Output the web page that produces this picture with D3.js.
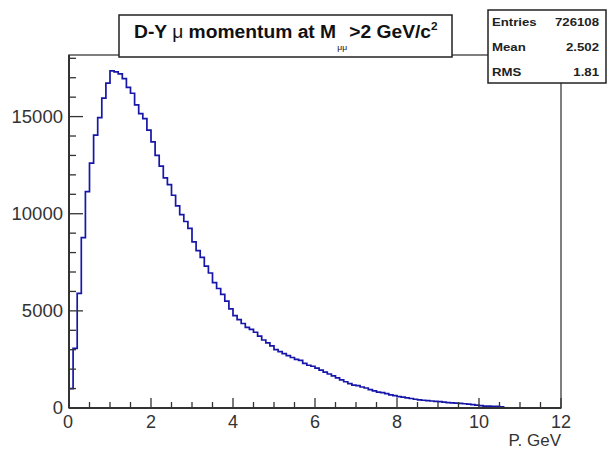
<!DOCTYPE html>
<html lang="en">
<head>
  <meta charset="UTF-8" />
  <title>D-Y mu momentum</title>
  <script src="https://d3js.org/d3.v7.min.js"></script>
  <style>
    body {
      margin: 0;
      background: #fff;
      font-family: "Liberation Sans", Arial, sans-serif;
    }
    svg {
      display: block;
    }
  </style>
</head>
<body>
  <svg id="chart" width="607" height="450"></svg>

  <script>
    // histogram contents, 0.1 GeV bins starting at 0
    const binWidth = 0.1;
    const counts = [
      1000, 3070, 5900, 8770, 11140, 12600, 14050, 14950, 15950, 16720,
      17350, 17300, 17200, 16950, 16500, 16200, 15600, 15150, 14900, 14300,
      13700, 13000, 12450, 11850, 11500, 10950, 10400, 9950, 9600, 9250,
      8550, 8100, 7750, 7300, 6950, 6450, 6150, 5850, 5500, 5100,
      4750, 4550, 4350, 4150, 4050, 3900, 3700, 3500, 3350, 3200,
      3000, 2900, 2800, 2700, 2600, 2500, 2450, 2300, 2200, 2150,
      2050, 1950, 1850, 1750, 1650, 1550, 1450, 1350, 1250, 1180,
      1150, 1080, 1030, 950, 880, 820, 790, 740, 680, 640,
      590, 560, 520, 490, 450, 420, 400, 380, 360, 340,
      330, 300, 280, 260, 250, 240, 220, 200, 170, 150,
      120, 100, 100, 90, 80, 60
    ];

    const xMajor = [0, 2, 4, 6, 8, 10, 12];
    const yMajor = [0, 5000, 10000, 15000];
    const xDomain = [0, 12];
    const yDomain = [0, 18170];

    const stats = [
      { label: "Entries", value: "726108" },
      { label: "Mean", value: "2.502" },
      { label: "RMS", value: "1.81" }
    ];

    const svg = d3.select("#chart");
    const frame = { left: 69, right: 561, top: 55, bottom: 408 };

    const x = d3.scaleLinear().domain(xDomain).range([frame.left, frame.right]);
    const y = d3.scaleLinear().domain(yDomain).range([frame.bottom, frame.top]);

    // frame
    svg.append("rect")
      .attr("x", frame.left).attr("y", frame.top)
      .attr("width", frame.right - frame.left)
      .attr("height", frame.bottom - frame.top)
      .attr("fill", "none")
      .attr("stroke", "#555")
      .attr("stroke-width", 1.5);

    // histogram as a step line
    const pts = [[x(0), y(0)]];
    counts.forEach((c, i) => {
      pts.push([x(i * binWidth), y(c)]);
      pts.push([x((i + 1) * binWidth), y(c)]);
    });
    pts.push([x(counts.length * binWidth), y(0)]);

    svg.append("path")
      .attr("d", d3.line()(pts))
      .attr("fill", "none")
      .attr("stroke", "#1616a8")
      .attr("stroke-width", 1.7);

    // x axis (ticks pointing up, into the frame)
    const xMinor = d3.range(0, 12.01, 0.5);
    svg.append("g")
      .selectAll("line")
      .data(xMinor)
      .join("line")
      .attr("x1", d => x(d)).attr("x2", d => x(d))
      .attr("y1", frame.bottom)
      .attr("y2", d => frame.bottom - (d % 2 === 0 ? 10 : 6))
      .attr("stroke", "#333")
      .attr("stroke-width", 1.3);

    svg.append("g")
      .selectAll("text")
      .data(xMajor)
      .join("text")
      .attr("x", d => x(d) - (d === 0 ? 1 : 0))
      .attr("y", 428)
      .attr("text-anchor", "middle")
      .attr("font-size", 18)
      .attr("fill", "#333")
      .text(d => d);

    // y axis (ticks pointing right)
    const yMinor = d3.range(0, 18001, 1000);
    svg.append("g")
      .selectAll("line")
      .data(yMinor)
      .join("line")
      .attr("x1", frame.left)
      .attr("x2", d => frame.left + (d % 5000 === 0 ? 14 : 7))
      .attr("y1", d => y(d)).attr("y2", d => y(d))
      .attr("stroke", "#333")
      .attr("stroke-width", 1.3);

    svg.append("g")
      .selectAll("text")
      .data(yMajor)
      .join("text")
      .attr("x", 63)
      .attr("y", d => y(d) + 6)
      .attr("text-anchor", "end")
      .attr("font-size", 18.5)
      .attr("fill", "#333")
      .text(d => d);

    svg.append("line")
      .attr("x1", frame.left).attr("x2", frame.left)
      .attr("y1", frame.top).attr("y2", frame.bottom)
      .attr("stroke", "#333").attr("stroke-width", 2);
    svg.append("line")
      .attr("x1", frame.left).attr("x2", frame.right)
      .attr("y1", frame.bottom).attr("y2", frame.bottom)
      .attr("stroke", "#333").attr("stroke-width", 2);

    svg.append("text")
      .attr("x", frame.right)
      .attr("y", 446)
      .attr("text-anchor", "end")
      .attr("font-size", 17)
      .attr("fill", "#333")
      .text("P. GeV");

    // title box
    svg.append("rect")
      .attr("x", 119).attr("y", 15)
      .attr("width", 333).attr("height", 42)
      .attr("fill", "#fff")
      .attr("stroke", "#222")
      .attr("stroke-width", 1.5);

    const title = svg.append("text")
      .attr("transform", "translate(134,38) scale(1.07,1)")
      .attr("font-size", 18)
      .attr("font-weight", "bold")
      .attr("fill", "#111");
    title.append("tspan").text("D-Y ");
    title.append("tspan").attr("font-weight", "normal").text("\u03bc");
    title.append("tspan").text(" momentum at M");
    title.append("tspan").attr("font-size", 8).attr("font-weight", "normal").attr("dy", 12).attr("dx", 1).text("\u03bc\u03bc");
    title.append("tspan").attr("dy", -12).attr("dx", 2).text(">2 GeV/c");
    title.append("tspan").attr("font-size", 11).attr("dy", -8).text("2");

    // stats box
    svg.append("rect")
      .attr("x", 488).attr("y", 10)
      .attr("width", 118).attr("height", 73)
      .attr("fill", "#fff")
      .attr("stroke", "#222")
      .attr("stroke-width", 1.5);

    const sx = 1.2;
    const rows = svg.append("g")
      .selectAll("g")
      .data(stats)
      .join("g")
      .attr("transform", (d, i) => `translate(492,${26 + i * 25}) scale(${sx},1)`);

    rows.append("text")
      .attr("x", 0)
      .attr("font-size", 11)
      .attr("fill", "#222")
      .attr("font-weight", "bold")
      .text(d => d.label);

    rows.append("text")
      .attr("x", (599 - 492) / sx)
      .attr("text-anchor", "end")
      .attr("font-size", 11)
      .attr("fill", "#222")
      .attr("font-weight", "bold")
      .text(d => d.value);
  </script>
</body>
</html>
